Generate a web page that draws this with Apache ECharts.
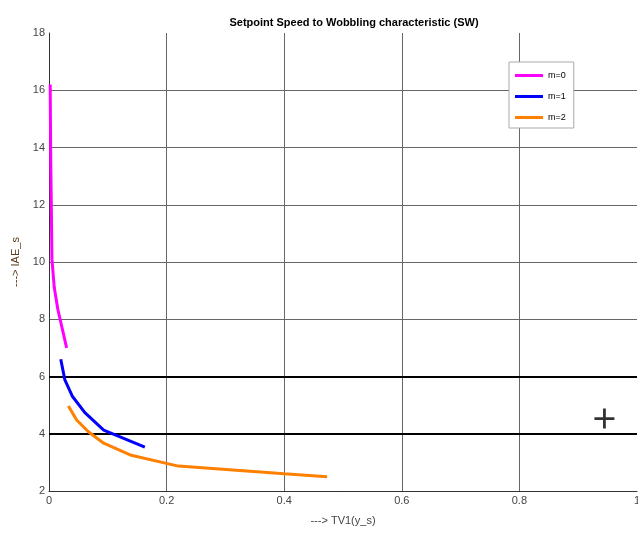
<!DOCTYPE html>
<html><head><meta charset="utf-8">
<script src="https://cdn.jsdelivr.net/npm/echarts@6/dist/echarts.min.js"></script>
<style>html,body{margin:0;padding:0;background:#fff}#c{width:638px;height:535px}</style>
</head><body><div id="c"></div>
<script>
var titleText = 'Setpoint Speed to Wobbling characteristic (SW)';
var xName = '---> TV1(y_s)';
var yName = '---> IAE_s';
var seriesNames = ['m=0', 'm=1', 'm=2'];
var m0 = [[0.002,16.2],[0.003,13.5],[0.004,11.9],[0.005,10.1],[0.009,9.1],[0.015,8.35],[0.030,7.0]];
var m1 = [[0.020,6.6],[0.027,5.88],[0.040,5.3],[0.061,4.74],[0.093,4.13],[0.163,3.53]];
var m2 = [[0.033,4.97],[0.047,4.48],[0.067,4.07],[0.093,3.67],[0.138,3.26],[0.220,2.87],[0.400,2.6],[0.473,2.5]];
var refLines = [4, 6];
var cursorMark = [[0.9446, 4.53]];
var colors = ['#ff00ff', '#0000ff', '#ff8000'];

var chart = echarts.init(document.getElementById('c'), null, {renderer:'canvas'});
var font = 'Liberation Sans, Arial, sans-serif';
function line(name, data, color, extra) {
  var s = {name:name, type:'line', data:data, showSymbol:false, symbol:'none', smooth:false,
    lineStyle:{color:color, width:3}, itemStyle:{color:color}, z:5, animation:false};
  if (extra) for (var k in extra) s[k] = extra[k];
  return s;
}
chart.setOption({
  animation:false,
  title:{text:titleText, left:349, textAlign:'center', top:12,
    textStyle:{fontFamily:font, fontSize:11, fontWeight:'bold', color:'#000'}},
  legend:{data:seriesNames, orient:'vertical', left:509, top:62, padding:[8,8,5,6], itemGap:10,
    itemWidth:28, itemHeight:3, icon:'rect', backgroundColor:'#fff', borderColor:'#aaa', borderWidth:1,
    textStyle:{fontFamily:font, fontSize:9, color:'#000', lineHeight:11}},
  grid:{left:49, right:1, top:33, bottom:44, containLabel:false, outerBoundsMode:'none'},
  xAxis:{type:'value', min:0, max:1, interval:0.2, name:xName, nameLocation:'middle', nameGap:24,
    nameTextStyle:{fontFamily:font, fontSize:11, color:'#444'},
    axisLine:{show:true, lineStyle:{color:'#333', width:1}}, axisTick:{show:false},
    axisLabel:{fontFamily:font, fontSize:11, color:'#444', margin:4, showMaxLabel:true, showMinLabel:true},
    splitLine:{show:true, showMaxLine:false, lineStyle:{color:'#666', width:1}}},
  yAxis:{type:'value', min:2, max:18, interval:2, name:yName, nameLocation:'middle', nameGap:28,
    nameTextStyle:{fontFamily:font, fontSize:11, color:'#5a3a1a'},
    axisLine:{show:true, lineStyle:{color:'#333', width:1}}, axisTick:{show:false},
    axisLabel:{fontFamily:font, fontSize:11, color:'#444', margin:4},
    splitLine:{show:true, showMaxLine:false, lineStyle:{color:'#666', width:1}}},
  series:[
    line(seriesNames[0], m0, colors[0], {markLine:{silent:true, symbol:['none','none'], label:{show:false},
      lineStyle:{color:'#000', width:2, type:'solid'}, data:refLines.map(function(v){return {yAxis:v};}), z:3}}),
    line(seriesNames[1], m1, colors[1]),
    line(seriesNames[2], m2, colors[2]),
    {type:'scatter', data:cursorMark, symbol:'path://M8.6,0h2.8v8.6h8.6v2.8h-8.6v8.6h-2.8v-8.6h-8.6v-2.8h8.6z',
      symbolSize:20, itemStyle:{color:'#000'}, silent:true, z:10, animation:false}
  ]
});
</script></body></html>
